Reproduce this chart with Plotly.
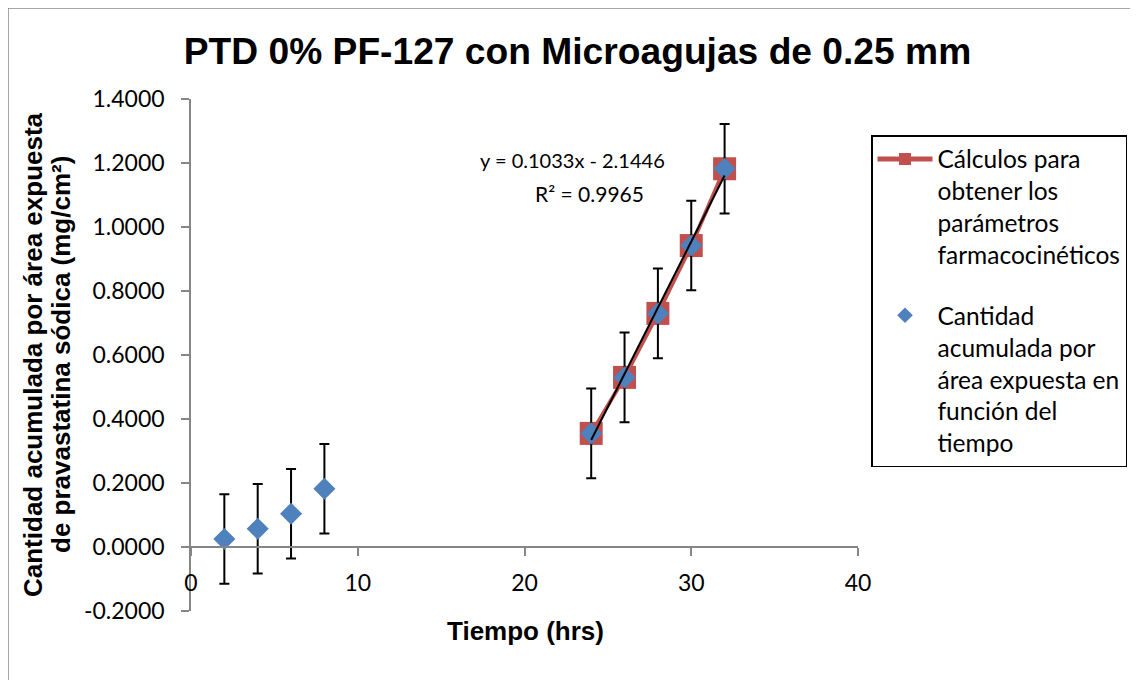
import plotly.graph_objects as go

# ---- data ----
tiempo = [2, 4, 6, 8, 24, 26, 28, 30, 32]
cantidad = [0.025, 0.057, 0.104, 0.182, 0.355, 0.530, 0.730, 0.942, 1.182]
error = [0.14, 0.14, 0.14, 0.14, 0.14, 0.14, 0.14, 0.14, 0.14]

tiempo_calc = [24, 26, 28, 30, 32]
cantidad_calc = [0.355, 0.530, 0.730, 0.942, 1.182]

slope = 0.1033
intercept = -2.1446
r2 = 0.9965

x_ticks = [0, 10, 20, 30, 40]
y_ticks = [-0.2, 0.0, 0.2, 0.4, 0.6, 0.8, 1.0, 1.2, 1.4]

title_text = "PTD 0% PF-127 con Microagujas de 0.25 mm"
name_calc = "Cálculos para<br>obtener los<br>parámetros<br>farmacocinéticos"
name_data = "Cantidad<br>acumulada por<br>área expuesta en<br>función del<br>tiempo"

RED = "#C0504D"
BLUE = "#4F81BD"
AXIS = "#868686"
TXT = "Lato"
BOLD = "Liberation Sans"

# page offset (body margin) = 8 px
OFF = 8
W, H = 1160 - OFF, 680 - OFF

fig = go.Figure()

fig.add_trace(go.Scatter(
    x=tiempo_calc, y=cantidad_calc, name=name_calc, mode="lines+markers",
    line=dict(color=RED, width=4),
    marker=dict(symbol="square", size=23, color=RED),
    legendgroup="a",
))

fig.add_trace(go.Scatter(
    x=tiempo, y=cantidad, name=name_data, mode="markers",
    marker=dict(symbol="diamond", size=17, color=BLUE),
    error_y=dict(type="data", array=error, visible=True, color="black",
                 thickness=2, width=5),
    legendgroup="b",
))

trend_x = [tiempo_calc[0], tiempo_calc[-1]]
trend_y = [slope * v + intercept for v in trend_x]
fig.add_trace(go.Scatter(
    x=trend_x, y=trend_y, mode="lines", showlegend=False,
    line=dict(color="black", width=2), hoverinfo="skip",
))

fig.update_layout(
    width=W, height=H,
    margin=dict(l=191 - OFF, r=1160 - 858, t=99 - OFF, b=680 - 611),
    paper_bgcolor="white", plot_bgcolor="white",
    showlegend=True,
    title=dict(text=f"<b>{title_text}</b>", x=(577.5 - OFF) / W, xanchor="center",
               xref="container", yref="container",
               y=1 - (51 - OFF) / H, yanchor="middle",
               font=dict(family=BOLD, size=37.2, color="black")),
    legend=dict(
        x=(871 - 191) / 667, y=(611 - 135) / 512, xanchor="left", yanchor="top",
        bordercolor="black", borderwidth=1.5, bgcolor="white",
        font=dict(family=TXT, size=24.5, color="black"),
        itemsizing="constant", itemwidth=55, valign="top", tracegroupgap=26,
    ),
    xaxis=dict(
        range=[0, 40], tickmode="array", tickvals=x_ticks,
        ticktext=[str(v) for v in x_ticks],
        showline=True, linecolor=AXIS, linewidth=1.5,
        ticks="outside", ticklen=8, tickcolor=AXIS, tickwidth=1.5,
        showgrid=False, zeroline=False,
        anchor="free", position=0.2 / 1.6,
        tickfont=dict(family=TXT, size=23, color="black"),
        ticklabelstandoff=8,
    ),
    yaxis=dict(
        range=[-0.2, 1.4], tickmode="array", tickvals=y_ticks,
        ticktext=[f"{v:.4f}" for v in y_ticks],
        showline=True, linecolor=AXIS, linewidth=1.5,
        ticks="outside", ticklen=8, tickcolor=AXIS, tickwidth=1.5,
        showgrid=False, zeroline=False,
        tickfont=dict(family=TXT, size=23, color="black"),
        ticklabelstandoff=12,
    ),
)

annots = [
    dict(text=f"y = {slope}x - {abs(intercept)}", x=22.85, y=1.209,
         xref="x", yref="y", showarrow=False, xanchor="center", yanchor="middle",
         font=dict(family=TXT, size=20, color="black")),
    dict(text=f"R² = {r2}", x=23.9, y=1.106,
         xref="x", yref="y", showarrow=False, xanchor="center", yanchor="middle",
         font=dict(family=TXT, size=21, color="black")),
    dict(text="<b>Tiempo (hrs)</b>", x=(525 - 191) / 667, y=(611 - 631) / 512,
         xref="paper", yref="paper", showarrow=False, xanchor="center", yanchor="middle",
         font=dict(family=BOLD, size=26, color="black")),
    dict(text="<b>Cantidad acumulada por área expuesta</b>", x=(33 - 191) / 667, y=0.5,
         xref="paper", yref="paper", showarrow=False, textangle=-90,
         xanchor="center", yanchor="middle",
         font=dict(family=BOLD, size=26, color="black")),
    dict(text="<b>de pravastatina sódica (mg/cm²)</b>", x=(61 - 191) / 667, y=0.5,
         xref="paper", yref="paper", showarrow=False, textangle=-90,
         xanchor="center", yanchor="middle",
         font=dict(family=BOLD, size=26, color="black")),
]
fig.update_layout(annotations=annots)

fig.add_shape(type="rect", xref="paper", yref="paper",
              x0=(8 - 191) / 667, x1=1.6, y0=-0.5, y1=(611 - 8) / 512,
              line=dict(color="#898989", width=1.5), layer="below")

fig.write_html("out.html")
